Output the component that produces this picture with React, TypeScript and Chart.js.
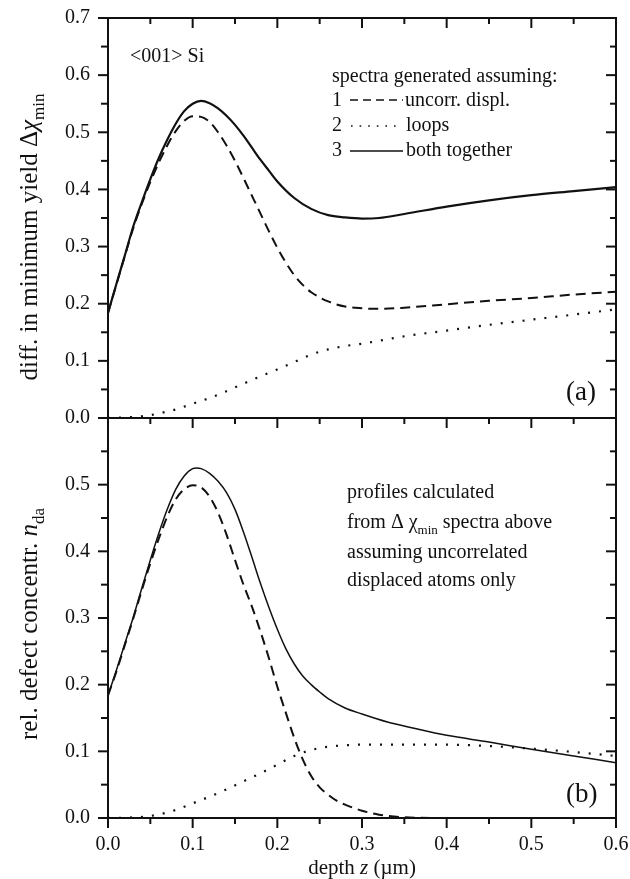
import React, { useEffect, useRef } from 'react';
import { Chart, registerables } from 'chart.js';

Chart.register(...registerables);

const FONT = '"Liberation Serif", "Times New Roman", serif';
const INK = '#111111';

// ---------- axis ticks ----------
const xTickValues = [0, 0.1, 0.2, 0.3, 0.4, 0.5, 0.6];
const yTicksA = [0, 0.1, 0.2, 0.3, 0.4, 0.5, 0.6, 0.7];
const yTicksB = [0, 0.1, 0.2, 0.3, 0.4, 0.5];

// ---------- panel (a): difference in minimum yield ----------
const depthA = [0, 0.01, 0.02, 0.03, 0.04, 0.05, 0.06, 0.07, 0.08, 0.09, 0.1, 0.11, 0.12, 0.13, 0.14, 0.15, 0.16, 0.17, 0.18, 0.19, 0.2, 0.22, 0.24, 0.26, 0.28, 0.3, 0.32, 0.35, 0.4, 0.45, 0.5, 0.55, 0.6];
const bothA = [0.184, 0.235, 0.285, 0.336, 0.378, 0.418, 0.455, 0.487, 0.515, 0.537, 0.55, 0.555, 0.551, 0.542, 0.529, 0.513, 0.494, 0.473, 0.452, 0.433, 0.414, 0.385, 0.366, 0.355, 0.351, 0.349, 0.35, 0.357, 0.37, 0.381, 0.39, 0.397, 0.404];

const depthA1 = [0, 0.01, 0.02, 0.03, 0.04, 0.05, 0.06, 0.07, 0.08, 0.09, 0.1, 0.11, 0.12, 0.13, 0.14, 0.15, 0.16, 0.17, 0.18, 0.19, 0.2, 0.21, 0.22, 0.23, 0.24, 0.26, 0.28, 0.3, 0.32, 0.35, 0.4, 0.45, 0.5, 0.55, 0.6];
const uncorrA = [0.184, 0.234, 0.284, 0.333, 0.375, 0.413, 0.447, 0.477, 0.502, 0.52, 0.528, 0.527, 0.518, 0.5, 0.477, 0.45, 0.42, 0.389, 0.358, 0.327, 0.298, 0.272, 0.25, 0.233, 0.22, 0.204, 0.195, 0.192, 0.191, 0.193, 0.199, 0.205, 0.21, 0.216, 0.221];

const depthA2 = [0, 0.02, 0.04, 0.05, 0.06, 0.08, 0.1, 0.12, 0.14, 0.16, 0.18, 0.2, 0.22, 0.24, 0.26, 0.28, 0.3, 0.35, 0.4, 0.45, 0.5, 0.55, 0.6];
const loopsA = [0, 0.001, 0.003, 0.005, 0.008, 0.015, 0.025, 0.035, 0.047, 0.06, 0.073, 0.085, 0.098, 0.111, 0.12, 0.126, 0.13, 0.143, 0.153, 0.163, 0.172, 0.181, 0.19];

// ---------- panel (b): relative defect concentration ----------
const depthB = [0, 0.01, 0.02, 0.03, 0.04, 0.05, 0.06, 0.07, 0.08, 0.09, 0.1, 0.105, 0.11, 0.12, 0.13, 0.14, 0.15, 0.16, 0.17, 0.18, 0.19, 0.2, 0.21, 0.22, 0.23, 0.24, 0.25, 0.26, 0.28, 0.3, 0.33, 0.36, 0.4, 0.45, 0.5, 0.55, 0.6];
const bothB = [0.184, 0.222, 0.262, 0.302, 0.345, 0.387, 0.427, 0.463, 0.493, 0.513, 0.524, 0.525, 0.524, 0.517, 0.505, 0.488, 0.463, 0.429, 0.391, 0.352, 0.316, 0.283, 0.254, 0.231, 0.213, 0.2, 0.189, 0.179, 0.165, 0.156, 0.144, 0.135, 0.124, 0.114, 0.103, 0.093, 0.083];

const depthB1 = [0, 0.01, 0.02, 0.03, 0.04, 0.05, 0.06, 0.07, 0.08, 0.09, 0.1, 0.11, 0.12, 0.13, 0.14, 0.15, 0.16, 0.17, 0.18, 0.19, 0.2, 0.21, 0.22, 0.23, 0.24, 0.25, 0.26, 0.27, 0.28, 0.3, 0.32, 0.35, 0.4, 0.5, 0.6];
const uncorrB = [0.184, 0.22, 0.26, 0.3, 0.342, 0.382, 0.419, 0.452, 0.478, 0.493, 0.499, 0.496, 0.482, 0.458, 0.425, 0.387, 0.35, 0.317, 0.28, 0.24, 0.197, 0.158, 0.12, 0.088, 0.063, 0.046, 0.035, 0.026, 0.02, 0.011, 0.005, 0.001, 0, 0, 0];

const depthB2 = [0, 0.02, 0.05, 0.08, 0.1, 0.12, 0.14, 0.16, 0.18, 0.2, 0.22, 0.24, 0.26, 0.28, 0.3, 0.35, 0.4, 0.45, 0.5, 0.55, 0.6];
const loopsB = [0, 0.0005, 0.003, 0.012, 0.022, 0.032, 0.043, 0.055, 0.067, 0.08, 0.093, 0.102, 0.107, 0.109, 0.11, 0.11, 0.11, 0.108, 0.104, 0.099, 0.093];

const pts = (xs: number[], ys: number[]) => xs.map((x, i) => ({ x, y: ys[i] }));

const DASH = [10, 6];
const DOT = [2, 9];

type Seg = { t: string; it?: boolean; sub?: boolean };

function drawSegs(ctx: CanvasRenderingContext2D, segs: Seg[], x: number, y: number, size: number, align: 'left' | 'center') {
  const fontOf = (s: Seg) => `${s.it ? 'italic ' : ''}${s.sub ? Math.round(size * 0.66) : size}px ${FONT}`;
  let total = 0;
  for (const s of segs) {
    ctx.font = fontOf(s);
    total += ctx.measureText(s.t).width;
  }
  let cx = align === 'center' ? x - total / 2 : x;
  ctx.textAlign = 'left';
  ctx.textBaseline = 'alphabetic';
  for (const s of segs) {
    ctx.font = fontOf(s);
    ctx.fillText(s.t, cx, s.sub ? y + size * 0.28 : y);
    cx += ctx.measureText(s.t).width;
  }
}

const decor = {
  id: 'decor',
  afterDraw(chart: any) {
    const { ctx, chartArea: ca, scales } = chart;
    const sx = scales.x, ya = scales.ya, yb = scales.yb;
    const ym = ya.getPixelForValue(0);
    ctx.save();
    ctx.strokeStyle = INK;
    ctx.fillStyle = INK;
    ctx.lineWidth = 2;
    ctx.setLineDash([]);
    const line = (x1: number, y1: number, x2: number, y2: number) => {
      ctx.beginPath();
      ctx.moveTo(x1, y1);
      ctx.lineTo(x2, y2);
      ctx.stroke();
    };
    // frame
    ctx.strokeRect(ca.left, ca.top, ca.right - ca.left, ca.bottom - ca.top);
    line(ca.left, ym, ca.right, ym);
    // x ticks
    for (let i = 0; i <= 12; i++) {
      const px = sx.getPixelForValue(i * 0.05);
      const len = i % 2 === 0 ? 10 : 6;
      line(px, ca.top, px, ca.top + len);
      line(px, ym, px, ym + len);
      line(px, ca.bottom, px, ca.bottom + len);
    }
    // y ticks
    const yTicks = (sc: any, n: number) => {
      for (let i = 0; i <= n; i++) {
        const py = sc.getPixelForValue(i * 0.05);
        const major = i % 2 === 0;
        line(ca.left - (major ? 10 : 7), py, ca.left, py);
        line(ca.right - (major ? 10 : 6), py, ca.right, py);
      }
    };
    yTicks(ya, 14);
    yTicks(yb, 12);

    // axis titles
    const TS = 25;
    ctx.save();
    ctx.translate(37, 237);
    ctx.rotate(-Math.PI / 2);
    drawSegs(ctx, [{ t: 'diff. in minimum yield Δ' }, { t: 'χ', it: true }, { t: 'min', sub: true }], 0, 0, TS, 'center');
    ctx.restore();
    ctx.save();
    ctx.translate(37, 624);
    ctx.rotate(-Math.PI / 2);
    drawSegs(ctx, [{ t: 'rel. defect concentr. ' }, { t: 'n', it: true }, { t: 'da', sub: true }], 0, 0, TS, 'center');
    ctx.restore();
    drawSegs(ctx, [{ t: 'depth ' }, { t: 'z', it: true }, { t: ' (µm)' }], (ca.left + ca.right) / 2, 874, 21, 'center');

    // annotations panel (a)
    const FS = 20;
    drawSegs(ctx, [{ t: '<001> Si' }], 130, 62, FS, 'left');
    drawSegs(ctx, [{ t: 'spectra generated assuming:' }], 332, 82, FS, 'left');
    drawSegs(ctx, [{ t: '1' }], 332, 106, FS, 'left');
    drawSegs(ctx, [{ t: 'uncorr. displ.' }], 405, 106, FS, 'left');
    drawSegs(ctx, [{ t: '2' }], 332, 131, FS, 'left');
    drawSegs(ctx, [{ t: 'loops' }], 406, 131, FS, 'left');
    drawSegs(ctx, [{ t: '3' }], 332, 156, FS, 'left');
    drawSegs(ctx, [{ t: 'both together' }], 406, 156, FS, 'left');
    ctx.lineWidth = 1.6;
    ctx.setLineDash([8, 5]);
    line(350, 100, 403, 100);
    ctx.setLineDash([1.6, 7]);
    line(351, 126, 402, 126);
    ctx.setLineDash([]);
    line(350, 151, 403, 151);
    drawSegs(ctx, [{ t: '(a)' }], 566, 400, 27, 'left');

    // annotations panel (b)
    drawSegs(ctx, [{ t: 'profiles calculated' }], 347, 498, FS, 'left');
    drawSegs(ctx, [{ t: 'from Δ χ' }, { t: 'min', sub: true }, { t: ' spectra above' }], 347, 528, FS, 'left');
    drawSegs(ctx, [{ t: 'assuming uncorrelated' }], 347, 558, FS, 'left');
    drawSegs(ctx, [{ t: 'displaced atoms only' }], 347, 586, FS, 'left');
    drawSegs(ctx, [{ t: '(b)' }], 566, 802, 27, 'left');
    ctx.restore();
  },
};

const fmt = (allowed: number[]) => (v: any) => {
  const n = Number(v);
  return allowed.some((a) => Math.abs(a - n) < 1e-6) ? n.toFixed(1) : '';
};

const noPad = (s: any) => {
  s.paddingTop = 0;
  s.paddingBottom = 0;
  s.paddingLeft = 0;
  s.paddingRight = 0;
};

export default function App() {
  const ref = useRef<HTMLCanvasElement>(null);
  useEffect(() => {
    const common = { pointRadius: 0, fill: false, cubicInterpolationMode: 'monotone' as const, borderColor: INK, xAxisID: 'x' };
    const chart = new Chart(ref.current!, {
      type: 'line',
      data: {
        datasets: [
          { ...common, label: 'uncorr. displ. (a)', data: pts(depthA1, uncorrA), yAxisID: 'ya', borderWidth: 2, borderDash: DASH },
          { ...common, label: 'loops (a)', data: pts(depthA2, loopsA), yAxisID: 'ya', borderWidth: 2.2, borderDash: DOT },
          { ...common, label: 'both together (a)', data: pts(depthA, bothA), yAxisID: 'ya', borderWidth: 2.2 },
          { ...common, label: 'uncorr. displ. (b)', data: pts(depthB1, uncorrB), yAxisID: 'yb', borderWidth: 2, borderDash: DASH },
          { ...common, label: 'loops (b)', data: pts(depthB2, loopsB), yAxisID: 'yb', borderWidth: 2.2, borderDash: DOT },
          { ...common, label: 'both together (b)', data: pts(depthB, bothB), yAxisID: 'yb', borderWidth: 1.5 },
        ],
      },
      options: {
        animation: false,
        responsive: true,
        maintainAspectRatio: false,
        events: [],
        layout: { padding: { left: 0, top: 18, right: 14, bottom: 0 } },
        plugins: { legend: { display: false }, tooltip: { enabled: false } },
        scales: {
          x: {
            type: 'linear', position: 'bottom', min: 0, max: 0.6,
            afterBuildTicks: (s: any) => { s.ticks = xTickValues.map((v) => ({ value: v })); },
            ticks: { callback: fmt(xTickValues), font: { family: FONT, size: 20 }, color: INK, padding: 15, maxRotation: 0, autoSkip: false },
            grid: { display: false, drawTicks: false }, border: { display: false },
            afterFit: (s: any) => { s.height = 61; noPad(s); },
          },
          yb: {
            type: 'linear', position: 'left', stack: 'panels', stackWeight: 1, min: 0, max: 0.6,
            afterBuildTicks: (s: any) => { s.ticks = yTicksB.map((v) => ({ value: v })); },
            ticks: { callback: fmt(yTicksB), font: { family: FONT, size: 20 }, color: INK, padding: 18, autoSkip: false },
            grid: { display: false, drawTicks: false }, border: { display: false },
            afterFit: (s: any) => { s.width = 108; noPad(s); },
          },
          ya: {
            type: 'linear', position: 'left', stack: 'panels', stackWeight: 1, min: 0, max: 0.7,
            afterBuildTicks: (s: any) => { s.ticks = yTicksA.map((v) => ({ value: v })); },
            ticks: { callback: fmt(yTicksA), font: { family: FONT, size: 20 }, color: INK, padding: 18, autoSkip: false },
            grid: { display: false, drawTicks: false }, border: { display: false },
            afterFit: (s: any) => { s.width = 108; noPad(s); },
          },
        } as any,
      },
      plugins: [decor],
    });
    return () => chart.destroy();
  }, []);
  return (
    <div style={{ position: 'absolute', left: 0, top: 0, width: 630, height: 879, background: '#fff' }}>
      <canvas ref={ref} />
    </div>
  );
}
